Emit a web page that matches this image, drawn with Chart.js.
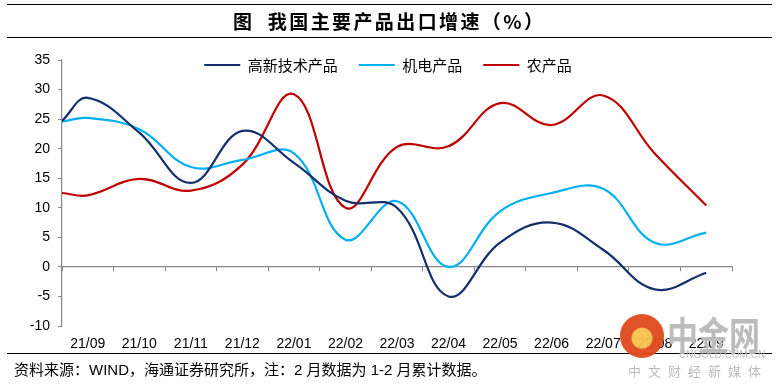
<!DOCTYPE html>
<html>
<head>
<meta charset="utf-8">
<script src="https://cdn.jsdelivr.net/npm/chart.js@4/dist/chart.umd.min.js"></script>
<style>
  html, body { margin: 0; padding: 0; background: #fff; }
  #wrap { position: relative; width: 776px; height: 386px; overflow: hidden; background: #fff; }
  #c { position: absolute; left: 0; top: 0; }
  .rule { position: absolute; left: 7px; width: 765px; height: 0; border-top: 1.6px solid #000; }
  #title { position: absolute; left: 233px; top: 9px; font-family: "Noto Sans CJK SC", sans-serif; font-weight: 700; font-size: 19px; line-height: 24px; letter-spacing: 2.4px; white-space: pre; color: #000; }
  #foot { position: absolute; left: 14px; top: 360px; font-family: "Liberation Sans", "Noto Sans CJK SC", sans-serif; font-size: 15px; line-height: 20px; white-space: pre; color: #000; }
  .wm { position: absolute; font-family: "Noto Sans CJK SC", sans-serif; color: #bcbcbc; white-space: pre; }
  #logo { position: absolute; left: 620px; top: 314px; width: 44px; height: 44px; border-radius: 50%; background: radial-gradient(circle at 50% 55%, #f6c24a 0 30%, #e0481c 34% 100%); opacity: 0.95; }
</style>
</head>
<body>
<div id="wrap">
  <canvas id="c" width="776" height="386"></canvas>
  <div class="rule" style="top:4px"></div>
  <div id="title">图  我国主要产品出口增速（%）</div>
  <div class="rule" style="top:37px"></div>
  <div class="rule" style="top:353px"></div>
  <div id="foot">资料来源：WIND，海通证券研究所，注：2 月数据为 1-2 月累计数据。</div>
  <div id="logo"></div>
  <div class="wm" style="left:667px; top:311px; font-size:31px; line-height:36px; font-weight:700; transform: scaleY(1.25); transform-origin: 0 0;">中金网</div>
  <div class="wm" style="left:679px; top:349px; font-size:10px; line-height:12px; font-family:'Liberation Sans',sans-serif;">CNGOLD.COM.CN</div>
  <div class="wm" style="left:628px; top:362px; font-size:13px; line-height:18px; letter-spacing:7px;">中文财经新媒体</div>
</div>
<script>
// ---- data ----
const labels = ['21/09','21/10','21/11','21/12','22/01','22/02','22/03','22/04','22/05','22/06','22/07','22/08','22/09'];
const seriesNames = ['高新技术产品', '机电产品', '农产品'];
// value where each line starts, at the left edge of the axis
const hiTechStart = 24.7;
const mechElecStart = 24.6;
const agriStart = 12.5;
const hiTech   = [28.6, 22.7, 14.2, 23.0, 17.6, 11.2, 10.0, -5.0, 4.1, 7.5, 2.9, -3.8, -1.0];
const mechElec = [25.2, 23.3, 16.9, 18.1, 19.2, 4.6, 11.1, 0.0, 9.4, 12.5, 13.2, 4.1, 5.8];
const agri     = [12.1, 14.9, 12.9, 17.3, 29.2, 10.0, 20.3, 20.4, 27.7, 24.0, 29.0, 19.2, 10.4];
const yTicks = { min: -10, max: 35, step: 5 };

const colors = ['#13306B', '#00B0F0', '#C00000'];
const xMin = -0.5, xMax = labels.length - 0.5;

function toPoints(start, vals) {
  return [{ x: xMin, y: start }].concat(vals.map((v, i) => ({ x: i, y: v })));
}

const numFont = { family: '"Liberation Sans", Arial, sans-serif', size: 14 };

// legend sits inside the plot, just under the top of the value axis
const legendPlacer = {
  id: 'legendPlacer',
  afterLayout(chart) {
    const lg = chart.legend;
    if (!lg) return;
    const h = lg.height;
    lg.left = 0; lg.right = chart.width; lg.width = chart.width;
    lg.top = 36.5; lg.bottom = lg.top + h;
  }
};

new Chart(document.getElementById('c'), {
  type: 'line',
  data: {
    datasets: [
      { label: seriesNames[0], data: toPoints(hiTechStart, hiTech) },
      { label: seriesNames[1], data: toPoints(mechElecStart, mechElec) },
      { label: seriesNames[2], data: toPoints(agriStart, agri) }
    ].map((d, i) => Object.assign(d, {
      borderColor: colors[i], backgroundColor: colors[i], borderWidth: 2.2,
      pointRadius: 0, tension: 0.4, fill: false
    }))
  },
  options: {
    responsive: false,
    animation: false,
    devicePixelRatio: 1,
    layout: { padding: { left: 0, right: 44, top: 14, bottom: 0 } },
    plugins: {
      title: { display: false },
      tooltip: { enabled: false },
      legend: {
        position: 'top',
        labels: {
          boxWidth: 36, boxHeight: 2, padding: 21, color: '#000',
          font: { family: '"Noto Sans CJK SC", sans-serif', size: 15 },
          generateLabels: chart => Chart.defaults.plugins.legend.labels.generateLabels(chart)
            .map(l => Object.assign(l, { lineWidth: 0, fillStyle: l.strokeStyle }))
        }
      }
    },
    scales: {
      x: {
        type: 'linear', position: 'bottom', min: xMin, max: xMax,
        afterBuildTicks: s => { s.ticks = labels.map((_, i) => ({ value: i })); },
        afterFit: s => { s.height = 60; },
        ticks: { autoSkip: false, maxRotation: 0, minRotation: 0, padding: 10, color: '#000', font: numFont,
                 callback: v => labels[v] },
        grid: { display: false, drawTicks: false },
        border: { display: false }
      },
      x0: {
        type: 'linear', axis: 'x', position: { y: 0 }, min: xMin, max: xMax,
        afterBuildTicks: s => { s.ticks = labels.map((_, i) => ({ value: i - 0.5 })).concat([{ value: xMax }]); },
        ticks: { display: false },
        grid: { drawOnChartArea: false, drawTicks: true, tickLength: 4, color: '#868686', lineWidth: 1 },
        border: { display: true, color: '#868686', width: 1.2 }
      },
      y: {
        min: yTicks.min, max: yTicks.max,
        afterFit: s => { s.width = 62; },
        ticks: { stepSize: yTicks.step, padding: 8, color: '#000', font: numFont },
        grid: { drawOnChartArea: false, drawTicks: true, tickLength: 4, color: '#868686' },
        border: { display: true, color: '#868686', width: 1.2 }
      }
    }
  },
  plugins: [legendPlacer]
});
</script>
</body>
</html>
